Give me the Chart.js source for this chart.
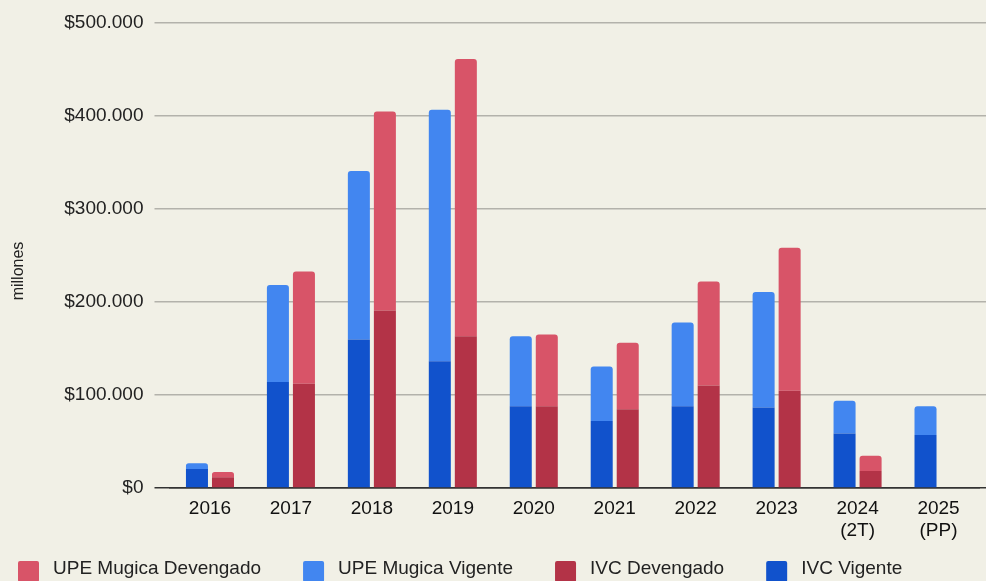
<!DOCTYPE html>
<html lang="es">
<head>
    <meta charset="UTF-8">
    <title>IVC y UPE Mugica - Vigente y Devengado</title>
    <script src="https://cdn.jsdelivr.net/npm/chart.js"></script>
    <style>
        html, body { margin: 0; padding: 0; background: #f1f0e6; overflow: hidden; }
        .contenedor { width: 986px; height: 581px; position: relative; }
    </style>
</head>
<body>
    <div class="contenedor">
        <canvas id="grafico"></canvas>
    </div>

    <script>
        // datos (millones de pesos)
        const anios = ['2016', '2017', '2018', '2019', '2020', '2021', '2022', '2023', ['2024', '(2T)'], ['2025', '(PP)']];
        const ivcVigente   = [20400, 113700, 159500, 136200, 87900, 71900, 87900, 86500, 58600, 56800];
        const upeVigente   = [6100, 104300, 180800, 269900, 75100, 58600, 89800, 124100, 35000, 31100];
        const ivcDevengado = [11500, 111900, 190600, 163000, 87900, 84700, 110100, 104400, 18200, null];
        const upeDevengado = [5700, 120500, 213700, 297800, 76900, 71200, 111600, 153700, 16500, null];
        const tituloY = 'millones';
        // orden de la leyenda (indices de datasets)
        const ordenLeyenda = [3, 1, 2, 0];

        const colorGrilla = '#b3b2ab';
        const colorCero = '#333333';

        function pesos(v) {
            return '$' + String(v).replace(/\B(?=(\d{3})+(?!\d))/g, '.');
        }

        Chart.defaults.font.family = '"Liberation Sans", Arial, sans-serif';
        Chart.defaults.font.size = 19;
        Chart.defaults.color = '#222';

        // titulo del eje y + leyenda abajo
        const extras = {
            id: 'extras',
            afterDraw(chart) {
                const ctx = chart.ctx;
                ctx.save();
                ctx.font = '16px "Liberation Sans", Arial, sans-serif';
                ctx.fillStyle = '#222';
                ctx.translate(19, 271);
                ctx.rotate(-Math.PI / 2);
                ctx.textAlign = 'center';
                ctx.textBaseline = 'middle';
                ctx.fillText(tituloY, 0, 0);
                ctx.restore();

                ctx.save();
                ctx.font = '19px "Liberation Sans", Arial, sans-serif';
                ctx.textBaseline = 'middle';
                ctx.textAlign = 'left';
                let x = 18;
                ordenLeyenda.forEach(i => {
                    const ds = chart.data.datasets[i];
                    ctx.fillStyle = ds.backgroundColor;
                    ctx.beginPath();
                    ctx.roundRect(x, 561, 21, 21, 2);
                    ctx.fill();
                    ctx.fillStyle = '#222';
                    ctx.fillText(ds.label, x + 35, 569);
                    x += 35 + ctx.measureText(ds.label).width + 42;
                });
                ctx.restore();
            }
        };

        function radioArriba(c) {
            return { topLeft: 3, topRight: 3, bottomLeft: 0, bottomRight: 0 };
        }

        let ctx = document.getElementById('grafico').getContext('2d');
        let chart = new Chart(ctx, {
            type: 'bar',
            data: {
                labels: anios,
                datasets: [
                    { label: 'IVC Vigente', data: ivcVigente, backgroundColor: '#1152cc', stack: 'vigente', borderRadius: 0, borderSkipped: false },
                    { label: 'UPE Mugica Vigente', data: upeVigente, backgroundColor: '#4286f0', stack: 'vigente', borderRadius: radioArriba, borderSkipped: false },
                    { label: 'IVC Devengado', data: ivcDevengado, backgroundColor: '#b33347', stack: 'devengado', borderRadius: 0, borderSkipped: false },
                    { label: 'UPE Mugica Devengado', data: upeDevengado, backgroundColor: '#d85468', stack: 'devengado', borderRadius: radioArriba, borderSkipped: false }
                ]
            },
            options: {
                responsive: true,
                maintainAspectRatio: false,
                animation: false,
                categoryPercentage: 0.643,
                barPercentage: 0.846,
                layout: { padding: { left: 58.5, right: 0, top: 22, bottom: 33 } },
                plugins: {
                    legend: { display: false },
                    tooltip: { enabled: false }
                },
                scales: {
                    x: {
                        stacked: true,
                        grid: { display: false },
                        border: { display: true, color: colorCero, width: 1.5 },
                        ticks: { padding: 1, color: '#111', maxRotation: 0, autoSkip: false },
                        afterFit(scale) { scale.height = 60; }
                    },
                    y: {
                        stacked: true,
                        min: 0,
                        max: 500000,
                        ticks: { stepSize: 100000, padding: 11, color: '#222', callback: v => pesos(v) },
                        grid: {
                            color: c => c.tick && c.tick.value === 0 ? colorCero : colorGrilla,
                            tickColor: c => c.tick && c.tick.value === 0 ? colorCero : colorGrilla,
                            lineWidth: 1.5,
                            tickLength: 15
                        },
                        border: { display: false },
                        afterFit(scale) { scale.width = 111; }
                    },
                    y2: {
                        axis: 'y',
                        position: 'right',
                        min: 0,
                        max: 500000,
                        ticks: { stepSize: 100000, display: false },
                        grid: {
                            drawOnChartArea: false,
                            tickColor: c => c.tick && c.tick.value === 0 ? colorCero : colorGrilla,
                            lineWidth: 1.5,
                            tickLength: 7
                        },
                        border: { display: false }
                    }
                }
            },
            plugins: [extras]
        });
    </script>
</body>
</html>
